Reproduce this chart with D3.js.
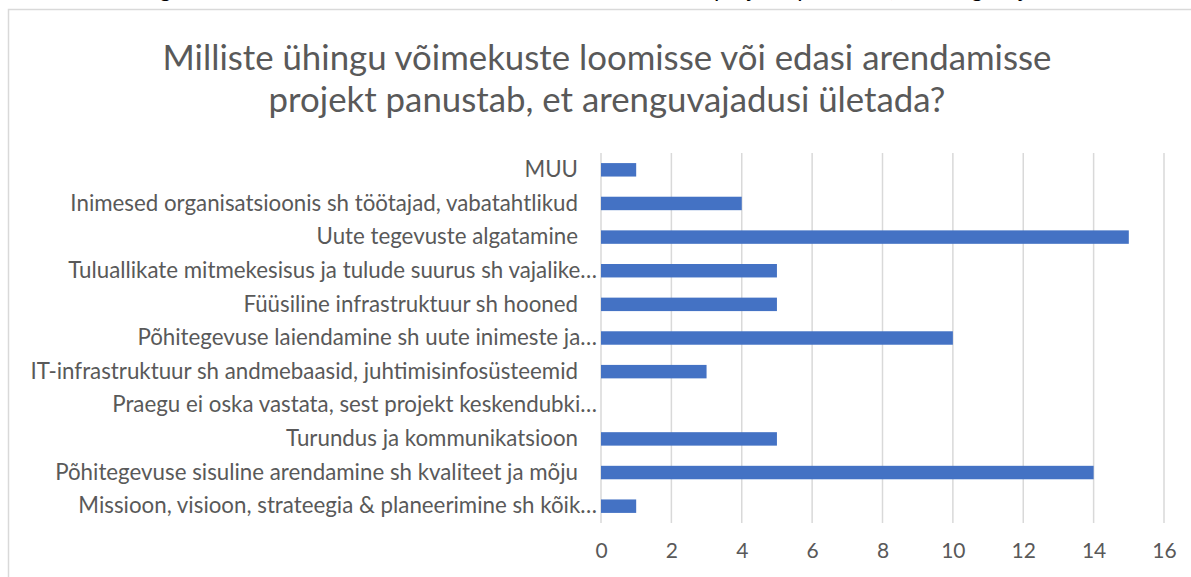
<!DOCTYPE html>
<html>
<head>
<meta charset="utf-8">
<script src="https://cdn.jsdelivr.net/npm/d3@7"></script>
<style>
  body { margin: 0; background: #fff; }
  text { font-family: Lato, "Open Sans", sans-serif; }
</style>
</head>
<body>
<svg id="chart" width="1191" height="577"></svg>
<script>
// categories, top to bottom as shown
const categories = [
  'MUU',
  'Inimesed organisatsioonis sh töötajad, vabatahtlikud',
  'Uute tegevuste algatamine',
  'Tuluallikate mitmekesisus ja tulude suurus sh vajalike…',
  'Füüsiline infrastruktuur sh hooned',
  'Põhitegevuse laiendamine sh uute inimeste ja…',
  'IT-infrastruktuur sh andmebaasid, juhtimisinfosüsteemid',
  'Praegu ei oska vastata, sest projekt keskendubki…',
  'Turundus ja kommunikatsioon',
  'Põhitegevuse sisuline arendamine sh kvaliteet ja mõju',
  'Missioon, visioon, strateegia & planeerimine sh kõik…'
];
const values = [1, 4, 15, 5, 5, 10, 3, 0, 5, 14, 1];
const xTicks = [0, 2, 4, 6, 8, 10, 12, 14, 16];
const titleLines = [
  'Milliste ühingu võimekuste loomisse või edasi arendamisse',
  'projekt panustab, et arenguvajadusi ületada?'
];
// caption line of the surrounding document, cut off at the top
const captionParts = [
  'Joonis 10. Ühingu võimekused mille loomisse või edasi arendamisse',
  'projekti panustab, et arenguvajadusi ületada'
];

const svg = d3.select('#chart');
const width = 1191;
const height = 577;
const margin = { top: 153, right: 27, bottom: 54, left: 601 };
const innerWidth = width - margin.left - margin.right;
const innerHeight = height - margin.top - margin.bottom;

// cut-off caption above the chart frame
svg.append('text')
  .attr('y', -3)
  .attr('font-size', 23)
  .attr('fill', '#000')
  .selectAll('tspan')
  .data(captionParts)
  .enter()
  .append('tspan')
  .attr('x', (d, i) => i === 0 ? 4 : 714)
  .text(d => d);

// chart frame
svg.append('rect')
  .attr('x', 8.5)
  .attr('y', 9.5)
  .attr('width', 1200)
  .attr('height', 600)
  .attr('fill', '#fff')
  .attr('stroke', '#d9d9d9')
  .attr('stroke-width', 1.5);

// title
svg.append('g')
  .selectAll('text')
  .data(titleLines)
  .enter()
  .append('text')
  .attr('x', 607)
  .attr('y', (d, i) => 70 + i * 42)
  .attr('text-anchor', 'middle')
  .attr('font-size', 34.8)
  .attr('fill', '#595959')
  .text(d => d);

const x = d3.scaleLinear().domain([0, 16]).range([0, innerWidth]);
const y = d3.scaleBand()
  .domain(categories)
  .range([0, innerHeight])
  .paddingInner(0.6)
  .paddingOuter(0.3);

const g = svg.append('g')
  .attr('transform', `translate(${margin.left},${margin.top})`);

// gridlines
g.append('g')
  .selectAll('line')
  .data(xTicks)
  .enter()
  .append('line')
  .attr('x1', d => x(d))
  .attr('x2', d => x(d))
  .attr('y1', 0)
  .attr('y2', innerHeight)
  .attr('stroke', '#d9d9d9')
  .attr('stroke-width', 1.5);

// bars
g.append('g')
  .selectAll('rect')
  .data(values)
  .enter()
  .append('rect')
  .attr('x', x(0))
  .attr('y', (d, i) => y(categories[i]))
  .attr('width', d => x(d) - x(0))
  .attr('height', y.bandwidth())
  .attr('fill', '#4472c4');

// x axis labels
const xAxis = d3.axisBottom(x).tickValues(xTicks).tickSize(0).tickPadding(20);
const xg = g.append('g')
  .attr('transform', `translate(0,${innerHeight})`)
  .call(xAxis);
xg.select('.domain').remove();
xg.selectAll('text')
  .attr('font-size', 21)
  .attr('fill', '#595959')
  .style('font-family', 'Lato, sans-serif');

// category labels
const yAxis = d3.axisLeft(y).tickSize(0).tickPadding(0);
const yg = g.append('g').call(yAxis);
yg.select('.domain').remove();
yg.selectAll('text')
  .attr('x', d => d.endsWith('…') ? -4 : -23)
  .attr('font-size', 22.3)
  .attr('fill', '#595959')
  .style('font-family', 'Lato, sans-serif');
</script>
</body>
</html>
